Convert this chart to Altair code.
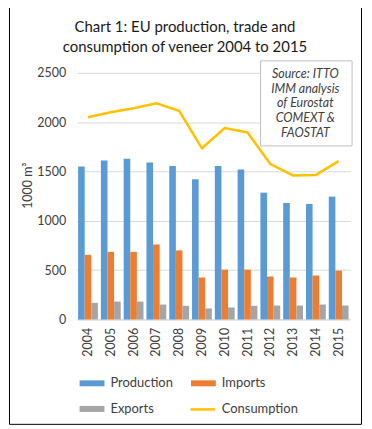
import altair as alt
import pandas as pd

years = ["2004", "2005", "2006", "2007", "2008", "2009", "2010", "2011", "2012", "2013", "2014", "2015"]
production = [1550, 1610, 1630, 1590, 1555, 1420, 1555, 1520, 1285, 1180, 1170, 1245]
imports = [655, 685, 685, 760, 700, 425, 505, 505, 435, 425, 445, 495]
exports = [168, 181, 181, 151, 138, 111, 121, 138, 141, 141, 151, 141]
consumption = [2050, 2100, 2140, 2190, 2115, 1735, 1940, 1895, 1575, 1460, 1465, 1605]

bar_series = ["Production", "Imports", "Exports"]
bar_colors = ["#5B9BD5", "#ED7D31", "#A5A5A5"]
line_color = "#FFC000"

title_lines = ["Chart 1: EU production, trade and", "consumption of veneer 2004 to 2015"]
source_lines = ["Source: ITTO", "IMM analysis", "of Eurostat", "COMEXT &", "FAOSTAT"]
y_ticks = [0, 500, 1000, 1500, 2000, 2500]

FONT = "Lato"
W, H = 275, 248

rows = []
for name, vals in zip(bar_series, [production, imports, exports]):
    for y, v in zip(years, vals):
        rows.append({"year": y, "series": name, "value": v})
bars_df = pd.DataFrame(rows)
line_df = pd.DataFrame({"year": years, "value": consumption, "series": ["Consumption"] * len(years)})
one = pd.DataFrame({"k": [0]})

x_enc = alt.X(
    "year:N",
    sort=years,
    scale=alt.Scale(paddingInner=0.13, paddingOuter=0.065),
    axis=alt.Axis(title=None, labelAngle=-90, ticks=False, tickSize=0, labelPadding=8,
                  domainColor="#D9D9D9", labelFont=FONT, labelFontSize=12.5, labelColor="#404040"),
)
y_enc = alt.Y(
    "value:Q",
    scale=alt.Scale(domain=[0, 2500], nice=False),
    axis=alt.Axis(values=y_ticks, format="d", title="1000 m³", domain=False, ticks=False, tickSize=0,
                  labelPadding=11, gridColor="#D9D9D9", labelFont=FONT, labelFontSize=12.5,
                  labelColor="#404040", titleFont=FONT, titleFontSize=12.5, titleFontWeight="normal",
                  titleColor="#404040", titleX=-49, titleY=113, titleAlign="center",
                  titleBaseline="middle"),
)

bars = alt.Chart(bars_df).mark_bar().encode(
    x=x_enc,
    y=y_enc,
    xOffset=alt.XOffset("series:N", sort=bar_series, scale=alt.Scale(paddingInner=0, paddingOuter=0)),
    color=alt.Color(
        "series:N",
        scale=alt.Scale(domain=bar_series, range=bar_colors),
        legend=alt.Legend(
            title=None, orient="none", legendX=3, legendY=299.5, columns=2, padding=0,
            direction="horizontal",
            symbolType="M-1,-0.24H1V0.24H-1Z", symbolSize=625, symbolStrokeWidth=0,
            labelOffset=6, columnPadding=18, rowPadding=6, labelFont=FONT, labelFontSize=13,
            labelColor="#404040", symbolOpacity=1,
        ),
    ),
)

line = alt.Chart(line_df).mark_line(strokeWidth=2.5).encode(
    x=alt.X("year:N", sort=years),
    y=alt.Y("value:Q"),
    stroke=alt.Stroke(
        "series:N",
        scale=alt.Scale(domain=["Consumption"], range=[line_color]),
        legend=alt.Legend(
            title=None, orient="none", legendX=113, legendY=324.5, padding=0,
            symbolType="stroke", symbolSize=625, symbolStrokeWidth=2.5, labelOffset=5,
            labelFont=FONT, labelFontSize=13, labelColor="#404040",
        ),
    ),
)

title = alt.Chart(one).mark_text(
    text=title_lines, font=FONT, fontSize=15, color="#1a1a1a", align="center",
    baseline="middle", lineHeight=20.5,
).encode(x=alt.value(109), y=alt.value(-46))

box = alt.Chart(one).mark_rect(fill="white", stroke="#BFBFBF", strokeWidth=1).encode(
    x=alt.value(185), x2=alt.value(277), y=alt.value(-12), y2=alt.value(73.5)
)
source = alt.Chart(one).mark_text(
    text=source_lines, font=FONT, fontSize=12.5, fontStyle="italic", color="#404040",
    align="center", baseline="middle", lineHeight=14.7,
).encode(x=alt.value(230), y=alt.value(1.3))

border = alt.Chart(one).mark_rect(fillOpacity=0, stroke="#000000", strokeWidth=1).encode(
    x=alt.value(-67.5), x2=alt.value(286.5), y=alt.value(-66.5), y2=alt.value(353.5)
)

chart = alt.layer(bars, line, box, source, title, border).resolve_scale(
    color="independent"
).properties(
    width=W, height=H,
    autosize=alt.AutoSizeParams(type="none"),
    padding={"left": 69, "top": 64, "right": 14, "bottom": 106},
    background="white",
).configure_view(stroke=None)

chart.save("out.html", embed_options={"renderer": "svg", "actions": False})
